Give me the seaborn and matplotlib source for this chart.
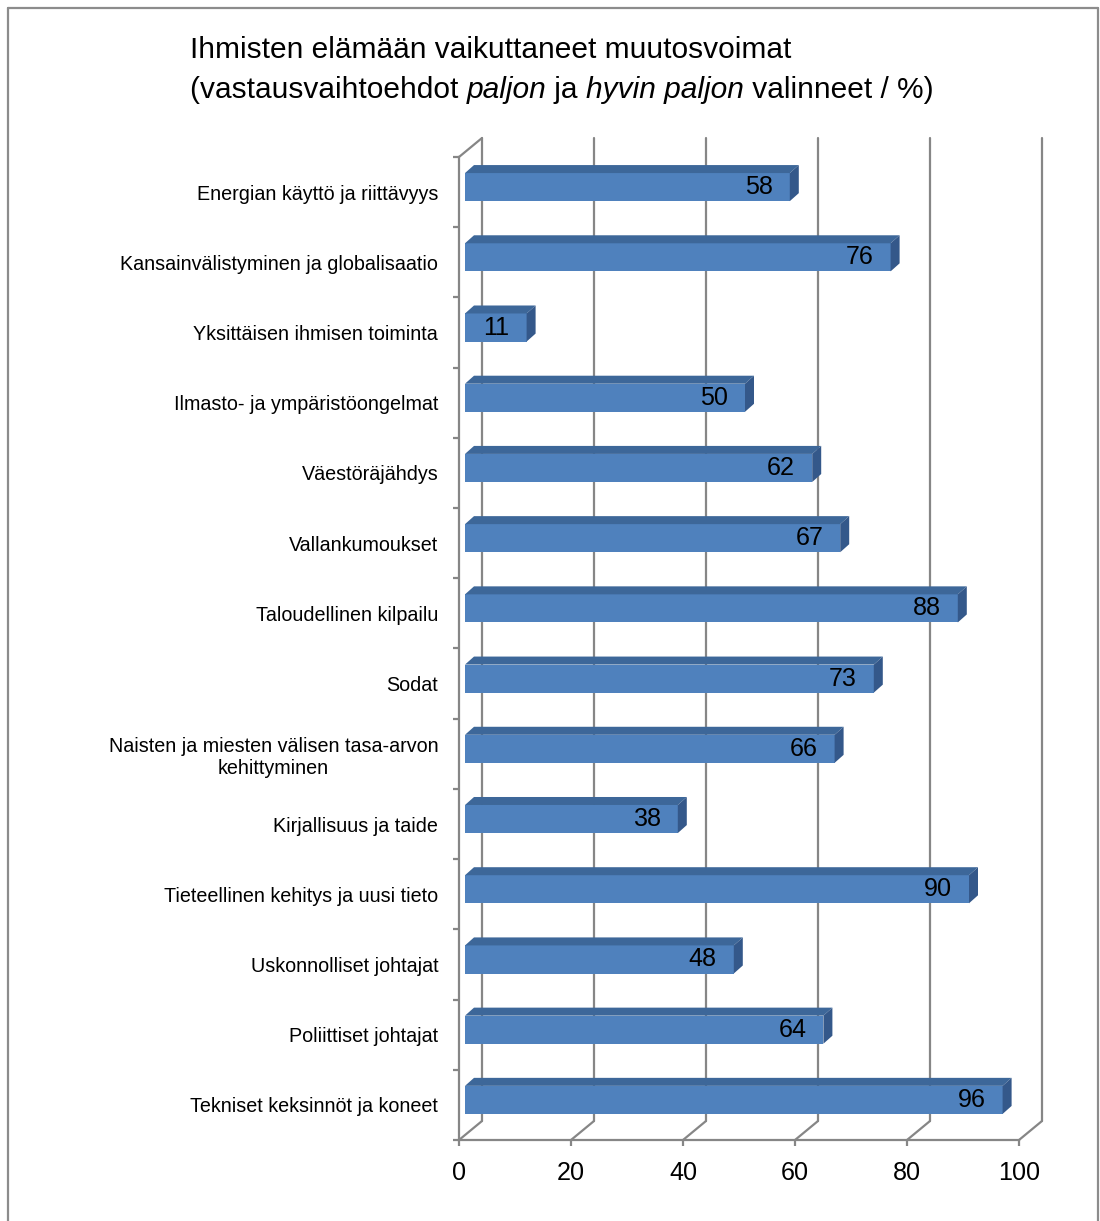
import matplotlib
matplotlib.use("Agg")
import matplotlib.pyplot as plt
import seaborn as sns
import pandas as pd
from matplotlib import font_manager
from matplotlib.patches import Polygon
from matplotlib.lines import Line2D

# --- data -------------------------------------------------------------
categories = [
    "Energian käyttö ja riittävyys",
    "Kansainvälistyminen ja globalisaatio",
    "Yksittäisen ihmisen toiminta",
    "Ilmasto- ja ympäristöongelmat",
    "Väestöräjähdys",
    "Vallankumoukset",
    "Taloudellinen kilpailu",
    "Sodat",
    "Naisten ja miesten välisen tasa-arvon\nkehittyminen",
    "Kirjallisuus ja taide",
    "Tieteellinen kehitys ja uusi tieto",
    "Uskonnolliset johtajat",
    "Poliittiset johtajat",
    "Tekniset keksinnöt ja koneet",
]
values = [58, 76, 11, 50, 62, 67, 88, 73, 66, 38, 90, 48, 64, 96]
xticks = [0, 20, 40, 60, 80, 100]

title_line1 = "Ihmisten elämään vaikuttaneet muutosvoimat"
title_line2 = [
    ("(vastausvaihtoehdot ", "normal"),
    ("paljon", "italic"),
    (" ja ", "normal"),
    ("hyvin paljon", "italic"),
    (" valinneet / %)", "normal"),
]

# --- style ------------------------------------------------------------
FRONT = "#4F81BD"
TOP = "#3D6799"
SIDE = "#34588A"
GRID = "#868686"
FRAME = "#8C8C8C"

sns.set_theme(style="white")


def pick_font():
    for name in ["Liberation Sans Narrow", "Liberation Sans"]:
        try:
            font_manager.findfont(font_manager.FontProperties(family=name),
                                  fallback_to_default=False)
            return name, (1.0 if "Narrow" in name else 0.84)
        except ValueError:
            pass
    return "DejaVu Sans", 0.78


FONT, S = pick_font()
plt.rcParams["font.family"] = [FONT, "DejaVu Sans"]

TITLE_FS = 25.6 * S
CAT_FS = 16.9 * S
VAL_FS = 21.5 * S

W, H = 1100, 1221
fig = plt.figure(figsize=(W / 100, H / 100), dpi=100)
fig.patch.set_facecolor("white")

# front plane of the 3-D box
ax = fig.add_axes([459 / W, 1 - 1140 / H, 560 / W, (1140 - 157) / H])
ax.set_facecolor("none")

df = pd.DataFrame({"tekijä": categories, "osuus": values})
sns.barplot(data=df, x="osuus", y="tekijä", orient="h", width=0.4,
            color=FRONT, saturation=1, ax=ax)
ax.set_xlim(0, 100)
ax.set_ylim(len(categories) - 0.5, -0.5)

# pixel -> data conversion for the depth offsets
p0 = ax.transData.transform((0, 0))
sx = ax.transData.transform((1, 0))[0] - p0[0]
sy = ax.transData.transform((0, 1))[1] - p0[1]


def shift(x, y, dx, dy):
    return x + dx / sx, y + dy / sy


WALL = (23, 19)      # depth of the floor / back wall
BAR_OFF = (6, 5)     # bar front face sits slightly inside the box
BAR_D = (9, 8)       # bar depth

ymin, ymax = len(categories) - 0.5, -0.5

# back wall gridlines
for t in xticks:
    xb0, yb0 = shift(t, ymin, *WALL)
    xb1, yb1 = shift(t, ymax, *WALL)
    ax.add_line(Line2D([xb0, xb1], [yb0, yb1], color=GRID, lw=1.6,
                       zorder=1, clip_on=False))
    # floor diagonals
    ax.add_line(Line2D([t, xb0], [ymin, yb0], color=GRID, lw=1.6,
                       zorder=1, clip_on=False))

# top-left diagonal of the side wall
xt, yt = shift(0, ymax, *WALL)
ax.add_line(Line2D([0, xt], [ymax, yt], color=GRID, lw=1.6, zorder=1,
                   clip_on=False))

# 3-D bars
for patch, v in zip(ax.patches, values):
    patch.set_zorder(4)
    patch.set_edgecolor("none")
    nx, ny = shift(patch.get_x(), patch.get_y(), *BAR_OFF)
    patch.set_x(nx)
    patch.set_y(ny)
    xl = patch.get_x()
    xr = xl + patch.get_width()
    ytop = patch.get_y()
    ybot = ytop + patch.get_height()
    a = shift(xl, ytop, *BAR_D)
    b = shift(xr, ytop, *BAR_D)
    c = shift(xr, ybot, *BAR_D)
    ax.add_patch(Polygon([(xl, ytop), (xr, ytop), b, a], closed=True,
                         facecolor=TOP, edgecolor="none", zorder=4,
                         clip_on=False))
    ax.add_patch(Polygon([(xr, ytop), (xr, ybot), c, b], closed=True,
                         facecolor=SIDE, edgecolor="none", zorder=4,
                         clip_on=False))
    lx, _ = shift(xr, 0, -17, 0)
    ax.text(lx, (ytop + ybot) / 2, f"{v}", ha="right", va="center",
            fontsize=VAL_FS, color="black", zorder=5)

# axes styling
for side in ("top", "right"):
    ax.spines[side].set_visible(False)
for side in ("left", "bottom"):
    ax.spines[side].set_color(GRID)
    ax.spines[side].set_linewidth(1.6)
    ax.spines[side].set_zorder(2)

ax.set_xlabel("")
ax.set_ylabel("")
ax.set_xticks(xticks)
ax.set_xticklabels([str(t) for t in xticks], fontsize=VAL_FS)
ax.tick_params(axis="x", bottom=True, length=4, width=1.6, color=GRID,
               pad=11, labelcolor="black")

ax.set_yticks(range(len(categories)))
ax.set_yticklabels(categories, fontsize=CAT_FS)
for lab in ax.get_yticklabels():
    lab.set_multialignment("center")
ax.set_yticks([i - 0.5 for i in range(len(categories) + 1)], minor=True)
ax.tick_params(axis="y", which="major", left=False, length=0, pad=15,
               labelcolor="black")
ax.tick_params(axis="y", which="minor", left=True, length=4, width=1.6,
               color=GRID)
ax.grid(False)

# outer frame (left, top, right)
for xs, ys in [((8, 8), (8, H + 5)), ((8, 1098), (8, 8)),
               ((1098, 1098), (8, H + 5))]:
    fig.add_artist(Line2D([x / W for x in xs], [1 - y / H for y in ys],
                          transform=fig.transFigure, color=FRAME, lw=1.6))

# title
fig.text(190 / W, 1 - 50 / H, title_line1, ha="left", va="center",
         fontsize=TITLE_FS, color="black")
renderer = fig.canvas.get_renderer()
x = 190
for txt, style in title_line2:
    t = fig.text(x / W, 1 - 90 / H, txt, ha="left", va="center",
                 fontsize=TITLE_FS, style=style, color="black")
    bb = t.get_window_extent(renderer)
    x = bb.x1

fig.savefig("out.png", dpi=100)
